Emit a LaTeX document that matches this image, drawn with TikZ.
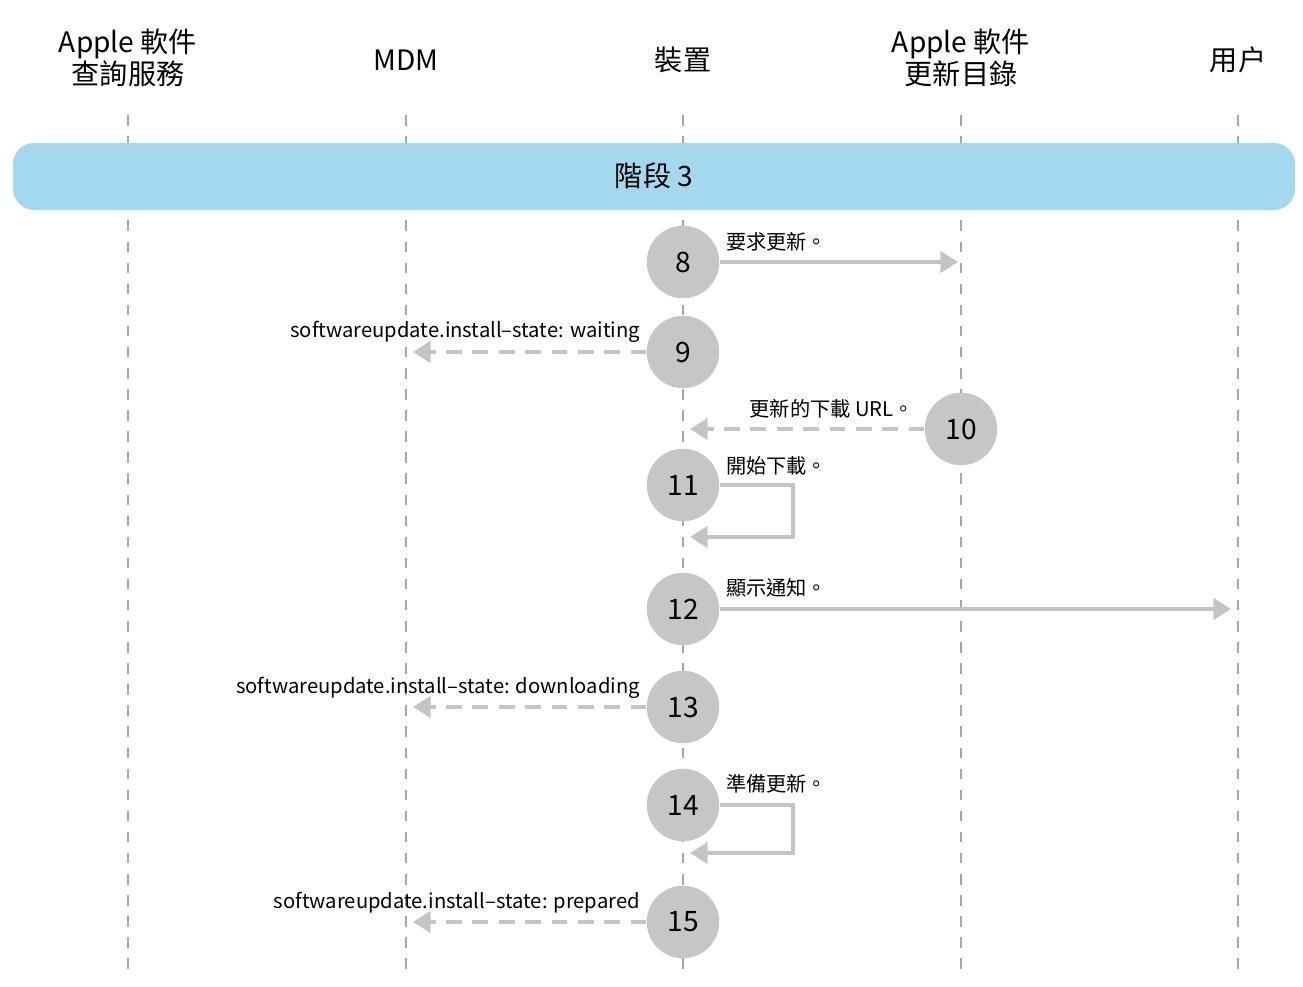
\documentclass[tikz,border=0pt]{standalone}
\usepackage{fontspec}
\setmainfont{Noto Sans CJK TC}
\usetikzlibrary{arrows.meta}
\definecolor{phase}{HTML}{A3D8EF}
\definecolor{stepgray}{HTML}{C6C6C6}
\definecolor{arrowgray}{HTML}{C4C4C4}
\tikzset{
  lifeline/.style={draw=gray!70,dash pattern=on 6pt off 6pt,line width=0.6pt},
  head/.style={font=\fontsize{16}{16}\selectfont,align=center},
  stepnum/.style={circle,fill=stepgray,minimum size=1.45cm,inner sep=0pt,font=\fontsize{16}{16}\selectfont},
  msg/.style={font=\fontsize{11.5}{12}\selectfont,inner sep=1pt},
  call/.style={draw=arrowgray,line width=2.3pt,-{Triangle[length=10pt,width=12pt]}},
  reply/.style={call,dash pattern=on 9pt off 6pt}
}
\begin{document}
\begin{tikzpicture}[x=0.02cm,y=-0.02cm]
  \useasboundingbox (0,0) rectangle (1303,987);
  % lifelines
  \foreach \x/\name in {128/asq,406/mdm,683/dev,961/cat,1238/usr}
    \draw[lifeline] (\x,115) -- (\x,975);
  \node[head] (hasq) at (128,58) {Apple 軟件\\查詢服務};
  \node[head] (hmdm) at (406,60) {MDM};
  \node[head] (hdev) at (683,60) {裝置};
  \node[head] (hcat) at (961,58) {Apple 軟件\\更新目錄};
  \node[head] (husr) at (1238,60) {用户};
  % phase band
  \fill[phase,rounded corners=12pt] (13,143) rectangle (1295,210);
  \node[head] (phase3) at (654,176) {階段 3};
  % steps
  \node[stepnum] (s8) at (683,262) {8};
  \node[stepnum] (s9) at (683,352) {9};
  \node[stepnum] (s10) at (961,429) {10};
  \node[stepnum] (s11) at (683,485) {11};
  \node[stepnum] (s12) at (683,609) {12};
  \node[stepnum] (s13) at (683,707) {13};
  \node[stepnum] (s14) at (683,805) {14};
  \node[stepnum] (s15) at (683,922) {15};
  % arrow ends
  \coordinate (e8) at (958,262);
  \coordinate (e9) at (413,352);
  \coordinate (e10) at (690,429);
  \coordinate (e12) at (1231,609);
  \coordinate (e13) at (413,707);
  \coordinate (e15) at (413,922);
  % messages
  \draw[call] (s8) -- (e8);
  \node[msg,anchor=west] (m8) at (724,242) {要求更新。};
  \draw[reply] (s9) -- (e9);
  \node[msg,anchor=east] (m9) at (642,332) {softwareupdate.install–state: waiting};
  \draw[reply] (s10) -- (e10);
  \node[msg,anchor=east] (m10) at (916,409) {更新的下載 URL。};
  \draw[call] (s11.east) -- (793,485) -- (793,537) -- (690,537);
  \node[msg,anchor=west] (m11) at (724,466) {開始下載。};
  \draw[call] (s12) -- (e12);
  \node[msg,anchor=west] (m12) at (724,588) {顯示通知。};
  \draw[reply] (s13) -- (e13);
  \node[msg,anchor=east] (m13) at (642,688) {softwareupdate.install–state: downloading};
  \draw[call] (s14.east) -- (793,805) -- (793,853) -- (690,853);
  \node[msg,anchor=west] (m14) at (724,784) {準備更新。};
  \draw[reply] (s15) -- (e15);
  \node[msg,anchor=east] (m15) at (642,903) {softwareupdate.install–state: prepared};
\end{tikzpicture}
\end{document}
